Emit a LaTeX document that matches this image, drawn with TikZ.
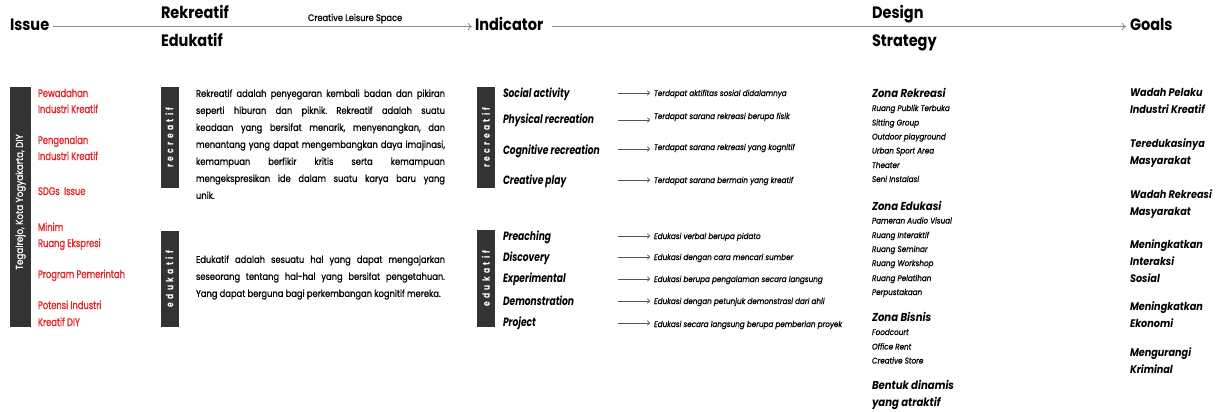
\documentclass[tikz,border=0pt]{standalone}
\usepackage{fontspec}
\setmainfont{Poppins}[FakeStretch=0.78]
\newfontfamily\fA{Poppins}[FakeStretch=0.76, UprightFeatures={FakeBold=1.2}, ItalicFeatures={FakeBold=1.2}]
\newfontfamily\fB{Poppins}[FakeStretch=0.88, UprightFeatures={FakeBold=0.8}, ItalicFeatures={FakeBold=0.8}]
\newfontfamily\fP{Poppins}[FakeStretch=0.86, UprightFeatures={FakeBold=0.8}]
\usetikzlibrary{arrows.meta}
\definecolor{barc}{HTML}{333333}
\definecolor{redc}{HTML}{E3262B}
\definecolor{linec}{HTML}{8A8A8A}
\definecolor{arrc}{HTML}{555555}
\frenchspacing
\hyphenpenalty=10000
\exhyphenpenalty=10000
\emergencystretch=20pt
\tolerance=10000
\begin{document}
\begin{tikzpicture}[x=1pt,y=-1pt,
  every node/.style={inner sep=0pt, outer sep=0pt},
  hdr/.style={font=\fB\fontsize{16.5}{16.5}\selectfont\bfseries, anchor=base west},
  sub/.style={font=\fB\fontsize{9.4}{9.4}\selectfont, anchor=base west},
  flow/.style={draw=linec, line width=1.6pt, -{To[length=4pt,width=7pt,line width=0.8pt]}},
  bar/.style={fill=barc, text=white, font=\fA\fontsize{10}{10}\selectfont\bfseries, rotate=90, minimum height=18pt},
  tbar/.style={fill=barc, minimum width=21pt, minimum height=240pt},
  tbartext/.style={text=white, font=\fB\fontsize{10}{10}\selectfont, rotate=90},
  issue/.style={text=redc, font=\fA\fontsize{11}{11}\selectfont, anchor=base west},
  para/.style={font=\fP\fontsize{9.7}{17}\selectfont, text width=249pt, align=justify, anchor=north west},
  ind/.style={font=\fA\fontsize{12}{12}\selectfont\bfseries\itshape, anchor=base west},
  desc/.style={font=\fB\fontsize{8.2}{8.2}\selectfont\itshape, anchor=base west},
  sarr/.style={draw=arrc, line width=0.7pt, -{To[length=3pt,width=5pt]}},
  zone/.style={font=\fB\fontsize{11.5}{11.5}\selectfont\bfseries\itshape, anchor=base west},
  zitem/.style={font=\fB\fontsize{8.2}{8.2}\selectfont\itshape, anchor=base west},
  goal/.style={font=\fB\fontsize{11}{11}\selectfont\bfseries\itshape, anchor=base west}
]
\useasboundingbox (0,0) rectangle (1221,412);
\fill[white] (0,0) rectangle (1221,412);

% ---------- header ----------
\node[hdr] (issue) at (10,31) {Issue};
\node[hdr] (rek) at (161,19) {Rekreatif};
\node[hdr] (edu) at (161,47) {Edukatif};
\node[sub] (cls) at (308,21) {Creative Leisure Space};
\node[hdr] (indic) at (475,31) {Indicator};
\node[hdr] (design) at (872,19) {Design};
\node[hdr] (strat) at (872,47) {Strategy};
\node[hdr] (goals) at (1130,31) {Goals};
\coordinate (i1) at (53,26.5);
\coordinate (i2) at (472,26.5);
\coordinate (d1) at (552,26.5);
\coordinate (d2) at (1126,26.5);
\draw[flow] (i1) -- (i2);
\draw[flow] (d1) -- (d2);

% ---------- issue column ----------
\node[tbar] (loc) at (20.5,207) {};
\node[tbartext] (loct) at (20.5,202) {Tegalrejo, Kota Yogyakarta, DIY};
\node[issue] (is1a) at (38,97) {Pewadahan};
\node[issue] (is1b) at (38,113) {Industri Kreatif};
\node[issue] (is2a) at (38,144) {Pengenalan};
\node[issue] (is2b) at (38,160) {Industri Kreatif};
\node[issue] (is3) at (38,195) {SDGs\ \ Issue};
\node[issue] (is4a) at (38,231) {Minim};
\node[issue] (is4b) at (38,247) {Ruang Ekspresi};
\node[issue] (is5) at (38,278) {Program Pemerintah};
\node[issue] (is6a) at (38,309) {Potensi Industri};
\node[issue] (is6b) at (38,326) {Kreatif DIY};

% ---------- rekreatif / edukatif ----------
\node[bar, minimum width=101pt] (rbar1) at (169.5,137.5) {r\,\,e\,\,c\,\,r\,\,e\,\,a\,\,t\,\,i\,\,f};
\node[para] (p1) at (196,89.5) {Rekreatif adalah penyegaran kembali badan dan pikiran\linebreak seperti hiburan dan piknik. Rekreatif adalah suatu\linebreak keadaan yang bersifat menarik, menyenangkan, dan\linebreak menantang yang dapat mengembangkan daya imajinasi,\linebreak kemampuan berfikir kritis serta kemampuan\linebreak mengekspresikan ide dalam suatu karya baru yang unik.};
\node[bar, minimum width=96pt] (ebar1) at (169.5,279) {e\,\,d\,\,u\,\,k\,\,a\,\,t\,\,i\,\,f};
\node[para] (p2) at (196,255.5) {Edukatif adalah sesuatu hal yang dapat mengajarkan\linebreak seseorang tentang hal-hal yang bersifat pengetahuan.\linebreak Yang dapat berguna bagi perkembangan kognitif mereka.};

% ---------- indicator ----------
\node[bar, minimum width=101pt] (rbar2) at (486,137.5) {r\,\,e\,\,c\,\,r\,\,e\,\,a\,\,t\,\,i\,\,f};
\node[ind] (s1) at (503,97) {Social activity};
\node[ind] (s2) at (503,123) {Physical recreation};
\node[ind] (s3) at (503,154) {Cognitive recreation};
\node[ind] (s4) at (503,184) {Creative play};
\node[desc] (t1) at (654,96) {Terdapat aktifitas sosial didalamnya};
\node[desc] (t2) at (654,119) {Terdapat sarana rekreasi berupa fisik};
\node[desc] (t3) at (654,150) {Terdapat sarana rekreasi yang kognitif};
\node[desc] (t4) at (654,183) {Terdapat sarana bermain yang kreatif};
\coordinate (a1) at (618,93);  \coordinate (b1) at (650,93);
\coordinate (a2) at (618,120); \coordinate (b2) at (650,120);
\coordinate (a3) at (618,149); \coordinate (b3) at (650,149);
\coordinate (a4) at (618,180); \coordinate (b4) at (650,180);
\foreach \k in {1,...,4} {\draw[sarr] (a\k) -- (b\k);}

\node[bar, minimum width=97pt] (ebar2) at (486,278.5) {e\,\,d\,\,u\,\,k\,\,a\,\,t\,\,i\,\,f};
\node[ind] (e1) at (503,240) {Preaching};
\node[ind] (e2) at (503,261) {Discovery};
\node[ind] (e3) at (503,282) {Experimental};
\node[ind] (e4) at (503,305) {Demonstration};
\node[ind] (e5) at (503,326) {Project};
\node[desc] (u1) at (654,239) {Edukasi verbal berupa pidato};
\node[desc] (u2) at (654,260) {Edukasi dengan cara mencari sumber};
\node[desc] (u3) at (654,282) {Edukasi berupa pengalaman secara langsung};
\node[desc] (u4) at (654,304) {Edukasi dengan petunjuk demonstrasi dari ahli};
\node[desc] (u5) at (654,327) {Edukasi secara langsung berupa pemberian proyek};
\coordinate (c1) at (618,236); \coordinate (f1) at (650,236);
\coordinate (c2) at (618,257); \coordinate (f2) at (650,257);
\coordinate (c3) at (618,279); \coordinate (f3) at (650,279);
\coordinate (c4) at (618,301); \coordinate (f4) at (650,301);
\coordinate (c5) at (618,323); \coordinate (f5) at (650,323);
\foreach \k in {1,...,5} {\draw[sarr] (c\k) -- (f\k);}

% ---------- design strategy ----------
\node[zone] (z1) at (872,97) {Zona Rekreasi};
\node[zitem] (z1a) at (872,111) {Ruang Publik Terbuka};
\node[zitem] (z1b) at (872,125.5) {Sitting Group};
\node[zitem] (z1c) at (872,139.5) {Outdoor playground};
\node[zitem] (z1d) at (872,153.5) {Urban Sport Area};
\node[zitem] (z1e) at (872,168) {Theater};
\node[zitem] (z1f) at (872,182) {Seni Instalasi};
\node[zone] (z2) at (872,210) {Zona Edukasi};
\node[zitem] (z2a) at (872,223.5) {Pameran Audio Visual};
\node[zitem] (z2b) at (872,238) {Ruang Interaktif};
\node[zitem] (z2c) at (872,252) {Ruang Seminar};
\node[zitem] (z2d) at (872,266) {Ruang Workshop};
\node[zitem] (z2e) at (872,281) {Ruang Pelatihan};
\node[zitem] (z2f) at (872,295) {Perpustakaan};
\node[zone] (z3) at (872,321) {Zona Bisnis};
\node[zitem] (z3a) at (872,335) {Foodcourt};
\node[zitem] (z3b) at (872,349.5) {Office Rent};
\node[zitem] (z3c) at (872,363.5) {Creative Store};
\node[zone] (z4a) at (872,389) {Bentuk dinamis};
\node[zone] (z4b) at (872,406) {yang atraktif};

% ---------- goals ----------
\node[goal] (g1a) at (1130,96) {Wadah Pelaku};
\node[goal] (g1b) at (1130,113) {Industri Kreatif};
\node[goal] (g2a) at (1130,147) {Teredukasinya};
\node[goal] (g2b) at (1130,164) {Masyarakat};
\node[goal] (g3a) at (1130,198) {Wadah Rekreasi};
\node[goal] (g3b) at (1130,215) {Masyarakat};
\node[goal] (g4a) at (1130,248) {Meningkatkan};
\node[goal] (g4b) at (1130,265) {Interaksi};
\node[goal] (g4c) at (1130,282) {Sosial};
\node[goal] (g5a) at (1130,310) {Meningkatkan};
\node[goal] (g5b) at (1130,327) {Ekonomi};
\node[goal] (g6a) at (1130,356) {Mengurangi};
\node[goal] (g6b) at (1130,373) {Kriminal};
\end{tikzpicture}
\end{document}
